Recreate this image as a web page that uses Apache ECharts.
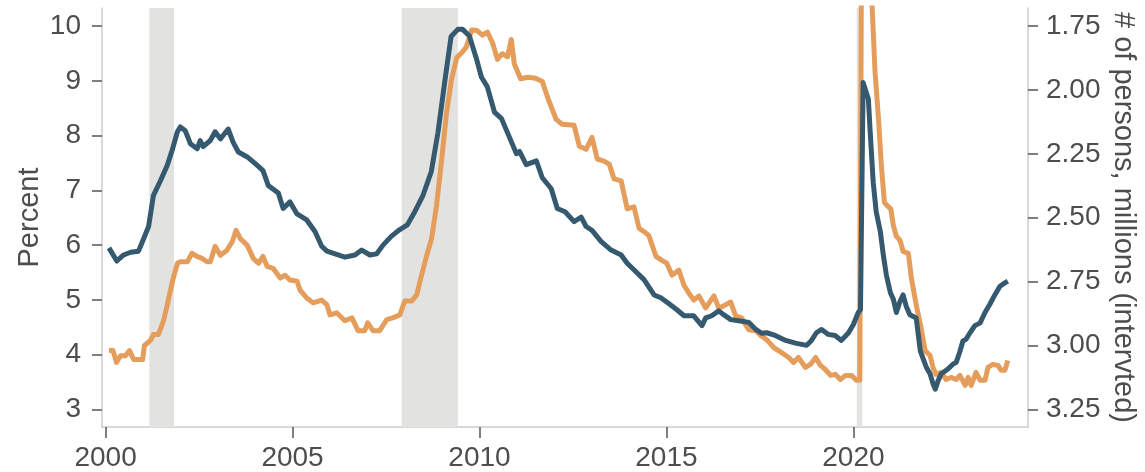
<!DOCTYPE html>
<html>
<head>
<meta charset="utf-8">
<title>Unemployment vs persons</title>
<script src="https://cdn.jsdelivr.net/npm/echarts@6/dist/echarts.min.js"></script>
<style>
  html, body { margin: 0; padding: 0; background: #fff; }
  #box { width: 1145px; height: 472px; }
</style>
</head>
<body>
<div id="box"></div>
<script>
// tick labels
var yearTicks = [2000, 2005, 2010, 2015, 2020];
var pctTicks = [3, 4, 5, 6, 7, 8, 9, 10];
var personTicks = [1.75, 2.00, 2.25, 2.50, 2.75, 3.00, 3.25];

// recessions (decimal years)
var recessionStart = [2001.17, 2007.92, 2020.09];
var recessionEnd = [2001.83, 2009.42, 2020.24];

// blue line, left axis (percent)
var rateDates = [
  2000.09, 2000.30, 2000.48, 2000.67, 2000.88, 2000.99, 2001.15, 2001.28, 2001.47, 2001.65,
  2001.78, 2001.92, 2002.00, 2002.13, 2002.27, 2002.45, 2002.53, 2002.61, 2002.80, 2002.93,
  2003.07, 2003.28, 2003.41, 2003.55, 2003.79, 2004.05, 2004.21, 2004.35, 2004.62, 2004.75,
  2004.93, 2005.12, 2005.38, 2005.60, 2005.78, 2005.92, 2006.18, 2006.40, 2006.67, 2006.85,
  2007.07, 2007.25, 2007.42, 2007.64, 2007.86, 2008.07, 2008.27, 2008.49, 2008.71, 2008.89,
  2009.07, 2009.24, 2009.42, 2009.55, 2009.73, 2009.92, 2010.05, 2010.21, 2010.40, 2010.59,
  2010.85, 2010.99, 2011.07, 2011.25, 2011.52, 2011.68, 2011.92, 2012.08, 2012.29, 2012.53,
  2012.72, 2012.85, 2013.01, 2013.25, 2013.52, 2013.79, 2013.95, 2014.13, 2014.40, 2014.67,
  2014.85, 2015.07, 2015.28, 2015.47, 2015.73, 2015.95, 2016.05, 2016.21, 2016.40, 2016.53,
  2016.72, 2016.93, 2017.20, 2017.39, 2017.55, 2017.68, 2017.91, 2018.19, 2018.45, 2018.75,
  2018.88, 2019.01, 2019.15, 2019.33, 2019.51, 2019.68, 2019.87, 2020.00, 2020.13, 2020.19,
  2020.26, 2020.40, 2020.45, 2020.53, 2020.61, 2020.72, 2020.80, 2020.88, 2020.99, 2021.07,
  2021.15, 2021.25, 2021.33, 2021.41, 2021.51, 2021.68, 2021.79, 2021.87, 2021.95, 2022.05,
  2022.13, 2022.19, 2022.27, 2022.35, 2022.53, 2022.67, 2022.75, 2022.84, 2022.93, 2023.01,
  2023.12, 2023.25, 2023.39, 2023.52, 2023.65, 2023.79, 2023.92, 2024.05, 2024.13
];
var rateValues = [
  5.95, 5.71, 5.82, 5.87, 5.89, 6.07, 6.34, 6.91, 7.18, 7.46,
  7.73, 8.07, 8.16, 8.09, 7.85, 7.76, 7.91, 7.80, 7.91, 8.07,
  7.94, 8.12, 7.88, 7.70, 7.61, 7.46, 7.36, 7.09, 6.95, 6.67,
  6.79, 6.57, 6.46, 6.25, 5.98, 5.89, 5.83, 5.78, 5.82, 5.91,
  5.82, 5.84, 6.00, 6.16, 6.28, 6.37, 6.61, 6.91, 7.34, 8.06,
  8.98, 9.81, 9.94, 9.94, 9.82, 9.40, 9.07, 8.89, 8.43, 8.31,
  7.89, 7.67, 7.71, 7.47, 7.54, 7.23, 7.03, 6.67, 6.61, 6.43,
  6.51, 6.34, 6.27, 6.07, 5.91, 5.82, 5.67, 5.55, 5.37, 5.09,
  5.04, 4.93, 4.82, 4.71, 4.71, 4.53, 4.67, 4.71, 4.80, 4.73,
  4.64, 4.62, 4.59, 4.46, 4.39, 4.40, 4.35, 4.26, 4.21, 4.17,
  4.26, 4.40, 4.46, 4.37, 4.35, 4.26, 4.40, 4.55, 4.77, 4.82,
  8.97, 8.67, 8.06, 7.15, 6.61, 6.25, 5.82, 5.46, 5.13, 5.01,
  4.77, 4.98, 5.09, 4.89, 4.73, 4.67, 4.07, 3.92, 3.77, 3.65,
  3.47, 3.37, 3.53, 3.65, 3.74, 3.83, 3.86, 4.04, 4.25, 4.28,
  4.40, 4.53, 4.58, 4.77, 4.92, 5.10, 5.25, 5.31, 5.34
];

// orange line, right axis (# of persons, millions, inverted)
var personDates = [
  2000.09, 2000.20, 2000.29, 2000.40, 2000.53, 2000.64, 2000.75, 2000.99, 2001.04, 2001.20,
  2001.28, 2001.41, 2001.55, 2001.65, 2001.79, 2001.92, 2002.00, 2002.19, 2002.31, 2002.44,
  2002.58, 2002.71, 2002.80, 2002.93, 2003.07, 2003.24, 2003.39, 2003.49, 2003.60, 2003.79,
  2003.95, 2004.09, 2004.21, 2004.32, 2004.48, 2004.67, 2004.80, 2004.93, 2005.12, 2005.20,
  2005.38, 2005.55, 2005.78, 2005.92, 2006.00, 2006.18, 2006.40, 2006.59, 2006.75, 2006.93,
  2007.01, 2007.15, 2007.33, 2007.52, 2007.68, 2007.87, 2008.00, 2008.19, 2008.32, 2008.45,
  2008.59, 2008.72, 2008.85, 2008.99, 2009.12, 2009.25, 2009.39, 2009.52, 2009.65, 2009.79,
  2009.92, 2010.08, 2010.21, 2010.35, 2010.48, 2010.61, 2010.75, 2010.85, 2010.93, 2011.10,
  2011.30, 2011.50, 2011.68, 2011.85, 2012.05, 2012.21, 2012.53, 2012.67, 2012.85, 2013.01,
  2013.15, 2013.33, 2013.47, 2013.60, 2013.79, 2013.95, 2014.13, 2014.27, 2014.40, 2014.53,
  2014.72, 2014.88, 2015.01, 2015.15, 2015.33, 2015.47, 2015.60, 2015.73, 2015.87, 2016.05,
  2016.27, 2016.40, 2016.53, 2016.72, 2016.85, 2017.01, 2017.20, 2017.39, 2017.52, 2017.68,
  2017.87, 2018.08, 2018.27, 2018.40, 2018.53, 2018.72, 2018.85, 2018.99, 2019.12, 2019.25,
  2019.39, 2019.52, 2019.65, 2019.79, 2019.95, 2020.08, 2020.17, 2020.25, 2020.33, 2020.42,
  2020.50, 2020.58, 2020.67, 2020.75, 2020.83, 2020.92, 2021.00, 2021.07, 2021.15, 2021.25,
  2021.33, 2021.47, 2021.55, 2021.68, 2021.81, 2021.92, 2022.05, 2022.13, 2022.21, 2022.35,
  2022.48, 2022.61, 2022.75, 2022.85, 2022.99, 2023.07, 2023.15, 2023.28, 2023.39, 2023.52,
  2023.60, 2023.73, 2023.87, 2023.95, 2024.05, 2024.13
];
var personValues = [
  3.020, 3.020, 3.066, 3.040, 3.040, 3.020, 3.055, 3.055, 3.000, 2.980,
  2.957, 2.957, 2.903, 2.841, 2.748, 2.678, 2.672, 2.672, 2.639, 2.651,
  2.659, 2.672, 2.672, 2.612, 2.647, 2.628, 2.593, 2.549, 2.581, 2.608,
  2.659, 2.678, 2.651, 2.690, 2.698, 2.736, 2.725, 2.744, 2.748, 2.783,
  2.814, 2.833, 2.822, 2.841, 2.880, 2.872, 2.903, 2.892, 2.942, 2.942,
  2.911, 2.942, 2.942, 2.899, 2.892, 2.880, 2.826, 2.826, 2.802, 2.725,
  2.647, 2.581, 2.453, 2.270, 2.088, 1.960, 1.874, 1.855, 1.831, 1.765,
  1.766, 1.785, 1.773, 1.816, 1.880, 1.858, 1.870, 1.802, 1.897, 1.956,
  1.950, 1.954, 1.967, 2.040, 2.115, 2.134, 2.138, 2.220, 2.232, 2.185,
  2.270, 2.278, 2.290, 2.348, 2.356, 2.465, 2.457, 2.542, 2.554, 2.570,
  2.651, 2.667, 2.678, 2.725, 2.705, 2.764, 2.795, 2.822, 2.806, 2.853,
  2.806, 2.853, 2.845, 2.830, 2.884, 2.892, 2.938, 2.942, 2.961, 2.977,
  3.008, 3.028, 3.047, 3.066, 3.047, 3.086, 3.074, 3.047, 3.078, 3.094,
  3.117, 3.113, 3.133, 3.117, 3.117, 3.136, 3.136, 0.30, 0.50, 1.00,
  1.67, 1.93, 2.11, 2.30, 2.44, 2.455, 2.465, 2.531, 2.573, 2.589,
  2.632, 2.639, 2.736, 2.841, 2.931, 3.020, 3.039, 3.086, 3.113, 3.105,
  3.133, 3.125, 3.133, 3.117, 3.156, 3.125, 3.156, 3.105, 3.136, 3.136,
  3.086, 3.074, 3.078, 3.097, 3.097, 3.059
];

var blue = '#35596f';
var orange = '#e59d5b';
var textCol = '#4d4d4d';
var axisCol = '#cccccc';
var font = 'Liberation Sans, Arial, sans-serif';

function zip(xs, ys) {
  var out = [];
  for (var i = 0; i < xs.length; i++) out.push([xs[i], ys[i]]);
  return out;
}

var areas = [];
for (var i = 0; i < recessionStart.length; i++) {
  areas.push([{ xAxis: recessionStart[i] }, { xAxis: recessionEnd[i] }]);
}

var myChart = echarts.init(document.getElementById('box'));
var option = {
  animation: false,
  textStyle: { fontFamily: font },
  grid: { left: 102, right: 115, top: 8, bottom: 42 },
  xAxis: {
    type: 'value',
    min: 1999.904,
    max: 2024.67,
    splitLine: { show: false },
    axisLine: { show: true, lineStyle: { color: axisCol, width: 1.5 } },
    axisTick: { show: true, customValues: yearTicks, length: 11, lineStyle: { color: '#555', width: 1.5 } },
    axisLabel: {
      customValues: yearTicks, fontSize: 28, color: textCol, margin: 17, fontFamily: font,
      formatter: function(v) { return String(v); }
    }
  },
  yAxis: [{
      type: 'value',
      position: 'left',
      min: 2.679,
      max: 10.33,
      name: 'Percent',
      nameLocation: 'middle',
      nameGap: 58,
      nameMoveOverlap: false,
      nameTextStyle: { fontSize: 29, color: textCol, fontFamily: font },
      splitLine: { show: false },
      axisLine: { show: true, lineStyle: { color: axisCol, width: 1.5 } },
      axisTick: { show: true, customValues: pctTicks, length: 10, lineStyle: { color: '#555', width: 1.5 } },
      axisLabel: { customValues: pctTicks, fontSize: 28, color: textCol, margin: 21, fontFamily: font }
    },
    {
      type: 'value',
      position: 'right',
      inverse: true,
      min: 1.679,
      max: 3.319,
      name: '# of persons, millions (intervted)',
      nameLocation: 'middle',
      nameRotate: -90,
      nameGap: 80,
      nameMoveOverlap: false,
      nameTextStyle: { fontSize: 29, color: textCol, fontFamily: font },
      splitLine: { show: false },
      axisLine: { show: true, lineStyle: { color: axisCol, width: 1.5 } },
      axisTick: { show: true, customValues: personTicks, length: 10, lineStyle: { color: '#555', width: 1.5 } },
      axisLabel: {
        customValues: personTicks, fontSize: 28, color: textCol, margin: 18, fontFamily: font,
        formatter: function(v) { return v.toFixed(2); }
      }
    }
  ],
  series: [{
      name: 'recessions',
      type: 'line',
      data: [],
      z: 0,
      silent: true,
      markArea: {
        silent: true,
        itemStyle: { color: '#e2e2e0', opacity: 1 },
        data: areas
      }
    },
    {
      name: 'persons',
      type: 'line',
      yAxisIndex: 1,
      data: zip(personDates, personValues),
      showSymbol: false,
      clip: true,
      z: 2,
      lineStyle: { color: orange, width: 5, join: 'round' }
    },
    {
      name: 'rate',
      type: 'line',
      yAxisIndex: 0,
      data: zip(rateDates, rateValues),
      showSymbol: false,
      clip: true,
      z: 3,
      lineStyle: { color: blue, width: 5, join: 'round' }
    }
  ]
};
myChart.setOption(option);
</script>
</body>
</html>
